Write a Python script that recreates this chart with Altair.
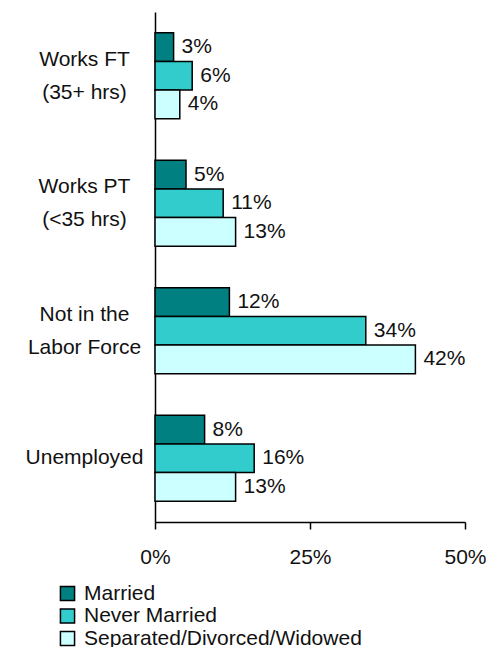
import altair as alt
import pandas as pd

categories = ["Works FT|(35+ hrs)", "Works PT|(<35 hrs)", "Not in the|Labor Force", "Unemployed"]
series = ["Married", "Never Married", "Separated/Divorced/Widowed"]
married = [3, 5, 12, 8]
never_married = [6, 11, 34, 16]
separated = [4, 13, 42, 13]
colors = ["#008080", "#33CCCC", "#CCFFFF"]
x_ticks = [0, 25, 50]

rows = []
for i, c in enumerate(categories):
    for s, vals in zip(series, [married, never_married, separated]):
        rows.append({"category": c, "status": s, "value": vals[i]})
df = pd.DataFrame(rows)

FONT = "Liberation Sans, Arial, sans-serif"
FS = 21

base = alt.Chart(df).encode(
    y=alt.Y(
        "category:N",
        sort=categories,
        scale=alt.Scale(paddingInner=0.325, paddingOuter=0.1625),
        axis=alt.Axis(
            title=None,
            ticks=False,
            labelExpr="split(datum.label, '|')",
            labelAlign="center",
            labelBaseline="middle",
            labelPadding=71,
            labelOffset={"condition": {"test": "indexof(datum.value, '|') >= 0", "value": -16}, "value": 0},
            labelFontSize=FS,
            labelFont=FONT,
            labelColor="#111111",
            labelLineHeight=33,
            labelLimit=300,
            domainColor="black",
            domainWidth=1.5,
        ),
    ),
    yOffset=alt.YOffset("status:N", sort=series, scale=alt.Scale(paddingInner=0, paddingOuter=0)),
    x=alt.X(
        "value:Q",
        scale=alt.Scale(domain=[0, 50]),
        axis=alt.Axis(
            title=None,
            values=x_ticks,
            labelExpr="datum.value + '%'",
            grid=False,
            tickSize=7,
            tickColor="black",
            tickWidth=1.5,
            domainColor="black",
            domainWidth=1.5,
            labelFontSize=FS,
            labelFont=FONT,
            labelColor="#111111",
            labelPadding=17,
            labelFlush=False,
        ),
    ),
)

bars = base.mark_bar(stroke="black", strokeWidth=1.5).encode(
    color=alt.Color(
        "status:N",
        sort=series,
        scale=alt.Scale(domain=series, range=colors),
        legend=alt.Legend(
            title=None,
            orient="none",
            legendX=-98,
            legendY=571,
            symbolType="square",
            symbolSize=200,
            symbolStrokeColor="black",
            symbolStrokeWidth=1.5,
            labelFontSize=FS,
            labelFont=FONT,
            labelColor="#111111",
            labelOffset=6,
            labelLimit=400,
            rowPadding=0.5,
        ),
    )
)

text = base.transform_calculate(label="datum.value + '%'").mark_text(
    align="left", baseline="middle", dx=8, fontSize=FS, font=FONT, color="#111111"
).encode(text="label:N")

chart = (
    alt.layer(bars, text)
    .properties(
        width=310,
        height=510,
        autosize=alt.AutoSizeParams(type="none"),
        padding={"left": 147, "top": 4, "right": 21, "bottom": 125},
    )
    .configure_view(stroke=None)
)

chart.save("out.html", embed_options={"renderer": "svg", "actions": False})
